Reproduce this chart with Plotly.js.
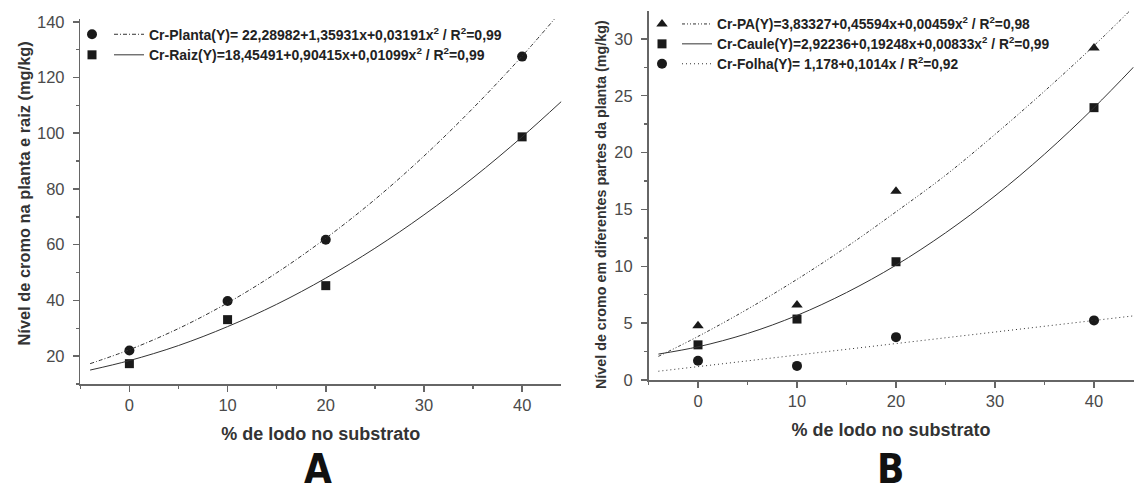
<!DOCTYPE html>
<html>
<head>
<meta charset="utf-8">
<script src="https://cdn.plot.ly/plotly-3.0.1.min.js"></script>
<style>html,body{margin:0;padding:0;background:#fff;}#chart{width:1138px;height:487px;}</style>
</head>
<body>
<div id="chart"></div>
<script>
// Panel A data (observed points)
const doseX = [0, 10, 20, 40];
const plantaY = [22.0, 39.8, 61.8, 127.5];
const raizY = [17.3, 33.1, 45.3, 98.7];
// Panel A fitted curves
const fitX = [-4, 0, 5, 10, 15, 20, 25, 30, 35, 40, 44];
const plantaFit = [17.3, 22.3, 29.9, 39.1, 49.9, 62.3, 76.2, 91.8, 109.0, 127.7, 143.9];
const raizFit = [15.0, 18.4, 23.8, 30.6, 38.6, 48.0, 58.7, 70.7, 84.0, 98.7, 111.4];
// Panel B data (observed points)
const paY = [4.77, 6.6, 16.6, 29.2];
const cauleY = [3.09, 5.36, 10.4, 23.95];
const folhaY = [1.7, 1.24, 3.77, 5.24];
// Panel B fitted curves
const paFit = [2.08, 3.83, 6.23, 8.85, 11.70, 14.79, 18.0, 21.6, 25.4, 29.4, 32.8];
const cauleFit = [2.28, 2.92, 4.09, 5.68, 7.69, 10.10, 12.94, 16.19, 19.86, 23.95, 27.52];
const folhaFitX = [-4, 44];
const folhaFit = [0.77, 5.64];

const labels = {
  planta: 'Cr-Planta(Y)= 22,28982+1,35931x+0,03191x<sup>2</sup> / R<sup>2</sup>=0,99',
  raiz: 'Cr-Raiz(Y)=18,45491+0,90415x+0,01099x<sup>2</sup> / R<sup>2</sup>=0,99',
  pa: 'Cr-PA(Y)=3,83327+0,45594x+0,00459x<sup>2</sup> / R<sup>2</sup>=0,98',
  caule: 'Cr-Caule(Y)=2,92236+0,19248x+0,00833x<sup>2</sup> / R<sup>2</sup>=0,99',
  folha: 'Cr-Folha(Y)= 1,178+0,1014x / R<sup>2</sup>=0,92'
};
const xTitle = '% de lodo no substrato';
const yTitleA = 'Nível de cromo na planta e raiz (mg/kg)';
const yTitleB = 'Nível de cromo em diferentes partes da planta (mg/kg)';

const ink = '#1a1a1a';
const lineCol = '#333333';
const W = 1138, H = 487;

function mk(x, y, sym, size, xa, ya, leg) {
  return {x: x, y: y, xaxis: xa, yaxis: ya, mode: 'markers', type: 'scatter', name: ' ',
    legend: leg, showlegend: true, cliponaxis: false,
    marker: {symbol: sym, size: size, color: ink}, hoverinfo: 'x+y'};
}
function ln(x, y, dash, name, fs, xa, ya, leg) {
  return {x: x, y: y, xaxis: xa, yaxis: ya, mode: 'lines', type: 'scatter',
    name: '<span style="font-size:' + fs + 'px">' + name + '</span>', legend: leg, showlegend: true,
    line: {color: lineCol, width: 1, dash: dash, shape: 'spline'}, hoverinfo: 'x+y'};
}

const traces = [
  mk(doseX, plantaY, 'circle', 10, 'x', 'y', 'legend'),
  mk(doseX, raizY, 'square', 9, 'x', 'y', 'legend'),
  ln(fitX, plantaFit, '4px,2px,1px,2px', labels.planta, 14, 'x', 'y', 'legend2'),
  ln(fitX, raizFit, 'solid', labels.raiz, 14, 'x', 'y', 'legend2'),
  mk(doseX, paY, 'triangle-up', 10, 'x2', 'y2', 'legend3'),
  mk(doseX, cauleY, 'square', 9, 'x2', 'y2', 'legend3'),
  mk(doseX, folhaY, 'circle', 10, 'x2', 'y2', 'legend3'),
  ln(fitX, paFit, '3px,2px,1px,2px,1px,2px', labels.pa, 13.8, 'x2', 'y2', 'legend4'),
  ln(fitX, cauleFit, 'solid', labels.caule, 13.8, 'x2', 'y2', 'legend4'),
  ln(folhaFitX, folhaFit, '1px,3px', labels.folha, 13.8, 'x2', 'y2', 'legend4')
];

const fam = 'Liberation Sans, Arial, sans-serif';
const tickFont = {family: fam, size: 16.5, color: '#4a4a4a'};
const titleFont = {family: fam, size: 18, color: '#333', weight: 'bold'};

function xAxis(dom, anchor) {
  return {domain: dom, anchor: anchor, range: [-5, 44], showgrid: false, zeroline: false,
    showline: true, linecolor: '#666', linewidth: 1.5, ticks: 'outside', ticklen: 6, tickwidth: 1.5,
    tickcolor: '#666', dtick: 10, tick0: 0, tickfont: tickFont,
    minor: {dtick: 5, ticks: 'outside', ticklen: 3, tickwidth: 1.5, tickcolor: '#666'},
    title: {text: xTitle, font: titleFont, standoff: 14}};
}
function yAxis(dom, anchor, range, dtick, mdtick) {
  return {domain: dom, anchor: anchor, range: range, showgrid: false, zeroline: false,
    showline: true, linecolor: '#666', linewidth: 1.5, ticks: 'outside', ticklen: 6, tickwidth: 1.5,
    tickcolor: '#666', dtick: dtick, tick0: 0, tickfont: tickFont, ticklabelstandoff: 5,
    minor: {dtick: mdtick, ticks: 'outside', ticklen: 3, tickwidth: 1.5, tickcolor: '#666'}};
}

const legBase = {bgcolor: 'rgba(0,0,0,0)', borderwidth: 0, xanchor: 'left', yanchor: 'top',
  tracegroupgap: 0, itemclick: false, itemdoubleclick: false, itemwidth: 30};
const legTextFont = {family: fam, color: '#222', weight: 'bold'};

const layout = {
  width: W, height: H, margin: {l: 0, r: 0, t: 0, b: 0},
  paper_bgcolor: '#fff', plot_bgcolor: '#fff', showlegend: true,
  xaxis: xAxis([80.3 / W, 561.4 / W], 'y'),
  yaxis: yAxis([(H - 384) / H, (H - 19) / H], 'x', [10, 141], 20, 10),
  xaxis2: xAxis([648.5 / W, 1133.6 / W], 'y2'),
  yaxis2: yAxis([(H - 380) / H, (H - 11) / H], 'x2', [0, 32.45], 5, 2.5),
  legend: Object.assign({}, legBase, {x: 72 / W, y: 1 - 19 / H, font: {size: 13.5}}),
  legend2: Object.assign({}, legBase, {x: 109 / W, y: 1 - 19 / H,
    font: Object.assign({size: 13.5}, legTextFont)}),
  legend3: Object.assign({}, legBase, {x: 642 / W, y: 1 - 9 / H, font: {size: 13}}),
  legend4: Object.assign({}, legBase, {x: 677 / W, y: 1 - 9 / H,
    font: Object.assign({size: 13}, legTextFont)}),
  annotations: [
    {text: yTitleA, xref: 'paper', yref: 'paper', x: 24 / W, y: 1 - 193.5 / H, showarrow: false,
      textangle: -90, xanchor: 'center', yanchor: 'middle',
      font: {family: fam, size: 16.4, color: '#333', weight: 'bold'}},
    {text: yTitleB, xref: 'paper', yref: 'paper', x: 601 / W, y: 1 - 205 / H, showarrow: false,
      textangle: -90, xanchor: 'center', yanchor: 'middle',
      font: {family: fam, size: 14.3, color: '#333', weight: 'bold'}},
    {text: 'A', xref: 'paper', yref: 'paper', x: 318 / W, y: 1 - 469 / H, showarrow: false,
      xanchor: 'center', yanchor: 'middle',
      font: {family: 'DejaVu Sans Condensed, Liberation Sans Narrow, Arial', size: 40, color: '#111', weight: 'bold'}},
    {text: 'B', xref: 'paper', yref: 'paper', x: 890 / W, y: 1 - 469 / H, showarrow: false,
      xanchor: 'center', yanchor: 'middle',
      font: {family: 'DejaVu Sans Condensed, Liberation Sans Narrow, Arial', size: 40, color: '#111', weight: 'bold'}}
  ]
};

Plotly.newPlot('chart', traces, layout, {displayModeBar: false, staticPlot: true});
</script>
</body>
</html>
